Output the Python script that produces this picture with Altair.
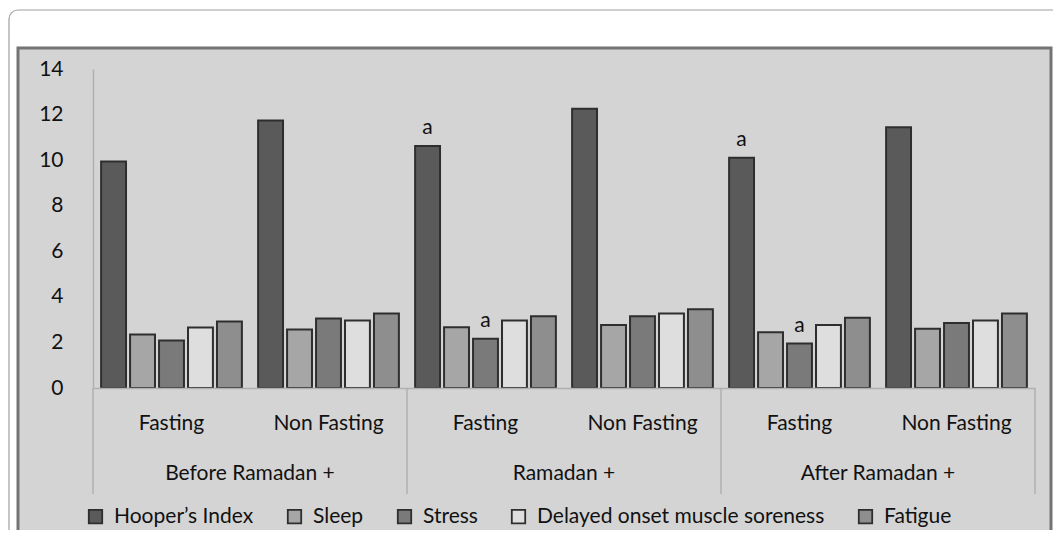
import altair as alt
import pandas as pd

periods = ["Before Ramadan +", "Ramadan +", "After Ramadan +"]
conditions = ["Fasting", "Non Fasting"]
series = ["Hooper’s Index", "Sleep", "Stress", "Delayed onset muscle soreness", "Fatigue"]
colors = ["#5a5a5a", "#a6a6a6", "#7a7a7a", "#dedede", "#8e8e8e"]

# values per (period, condition) in order: BR-F, BR-NF, R-F, R-NF, AR-F, AR-NF
hooper = [9.94, 11.74, 10.62, 12.26, 10.11, 11.44]
sleep = [2.35, 2.57, 2.67, 2.76, 2.45, 2.60]
stress = [2.08, 3.05, 2.16, 3.15, 1.95, 2.85]
doms = [2.66, 2.96, 2.96, 3.27, 2.76, 2.96]
fatigue = [2.92, 3.27, 3.15, 3.46, 3.08, 3.27]

# significance marks: (period, condition, series)
sig_marks = [
    ("Ramadan +", "Fasting", "Hooper’s Index"),
    ("Ramadan +", "Fasting", "Stress"),
    ("After Ramadan +", "Fasting", "Hooper’s Index"),
    ("After Ramadan +", "Fasting", "Stress"),
]

keys = [f"{p}|{c}" for p in periods for c in conditions]
values_by_series = dict(zip(series, [hooper, sleep, stress, doms, fatigue]))

rows = []
for s in series:
    for k, v in zip(keys, values_by_series[s]):
        rows.append({"key": k, "series": s, "value": v})
df = pd.DataFrame(rows)

sig_rows = []
for p, c, s in sig_marks:
    k = f"{p}|{c}"
    sig_rows.append({"key": k, "series": s, "value": values_by_series[s][keys.index(k)], "txt": "a"})
sig_df = pd.DataFrame(sig_rows)

group_df = pd.DataFrame({"key": [f"{p}|Fasting" for p in periods], "label": periods})
sep_start_df = pd.DataFrame({"key": [f"{p}|Fasting" for p in periods]})
sep_end_df = pd.DataFrame({"key": [f"{periods[-1]}|Non Fasting"]})
one = pd.DataFrame({"k": [0]})

FONT = "Lato"
FS = 21
W, H = 942, 319
step = W / len(keys)

xscale = alt.Scale(domain=keys, paddingInner=0, paddingOuter=0)
yscale = alt.Scale(domain=[0, 14], nice=False)

x_axis = alt.Axis(title=None, labelExpr="split(datum.label, '|')[1]", labelAngle=0,
                  ticks=False, domainColor="#b0b0b0", domainWidth=1.5,
                  labelFontSize=FS, labelFont=FONT, labelColor="#111111",
                  labelPadding=35, labelBaseline="middle", zindex=1)
y_axis = alt.Axis(title=None, values=list(range(0, 15, 2)), ticks=False, grid=False,
                  domainColor="#b0b0b0", domainWidth=1.5, labelFontSize=FS,
                  labelFont=FONT, labelColor="#111111", labelPadding=30, zindex=1)


def xenc(**kw):
    return alt.X("key:N", scale=xscale, sort=keys, axis=x_axis, **kw)


card = alt.Chart(one).mark_rect(fill="white", stroke="#a0a0a0", strokeWidth=1.2, cornerRadius=9).encode(
    x=alt.value(-84), x2=alt.value(990), y=alt.value(-59), y2=alt.value(700)
)
panel = alt.Chart(one).mark_rect(fill="#d4d4d4", stroke="#747474", strokeWidth=3).encode(
    x=alt.value(-75), x2=alt.value(958), y=alt.value(-21), y2=alt.value(700)
)

bars = alt.Chart(df).mark_bar(stroke="#2e2e2e", strokeWidth=2).encode(
    x=xenc(),
    xOffset=alt.XOffset("series:N", sort=series,
                        scale=alt.Scale(domain=series, paddingInner=0.14, paddingOuter=0.28)),
    y=alt.Y("value:Q", scale=yscale, axis=y_axis),
    color=alt.Color("series:N", sort=series, scale=alt.Scale(domain=series, range=colors),
                    legend=alt.Legend(title=None, orient="none", legendX=-8, legendY=437,
                                      direction="horizontal", columns=5, columnPadding=30,
                                      symbolType="square", symbolSize=180,
                                      symbolStrokeColor="#2e2e2e", symbolStrokeWidth=1.8,
                                      labelFontSize=FS, labelFont=FONT, labelColor="#111111",
                                      labelOffset=8, labelLimit=0, padding=0)),
)

sig = alt.Chart(sig_df).mark_text(fontSize=FS, font=FONT, color="#111111", baseline="alphabetic", dy=-12).encode(
    x=xenc(),
    xOffset=alt.XOffset("series:N", sort=series),
    y=alt.Y("value:Q", scale=yscale, axis=y_axis),
    text="txt:N",
)

groups = alt.Chart(group_df).mark_text(fontSize=FS, font=FONT, color="#111111", baseline="middle", dx=step / 2).encode(
    x=xenc(),
    y=alt.value(405),
    text="label:N",
)

sep_start = alt.Chart(sep_start_df).mark_rule(color="#b0b0b0", strokeWidth=1.5).encode(
    x=xenc(bandPosition=0),
    y=alt.value(H), y2=alt.value(425),
)
sep_end = alt.Chart(sep_end_df).mark_rule(color="#b0b0b0", strokeWidth=1.5).encode(
    x=xenc(bandPosition=1),
    y=alt.value(H), y2=alt.value(425),
)

chart = alt.layer(card, panel, sep_start, sep_end, bars, sig, groups).properties(
    width=W, height=H,
    padding={"left": 85, "top": 61, "right": 18, "bottom": 142},
    autosize=alt.AutoSizeParams(type="none"),
    background="white",
).configure_view(strokeWidth=0).configure(font=FONT)

chart.save("out.html", embed_options={"renderer": "svg", "actions": False})
